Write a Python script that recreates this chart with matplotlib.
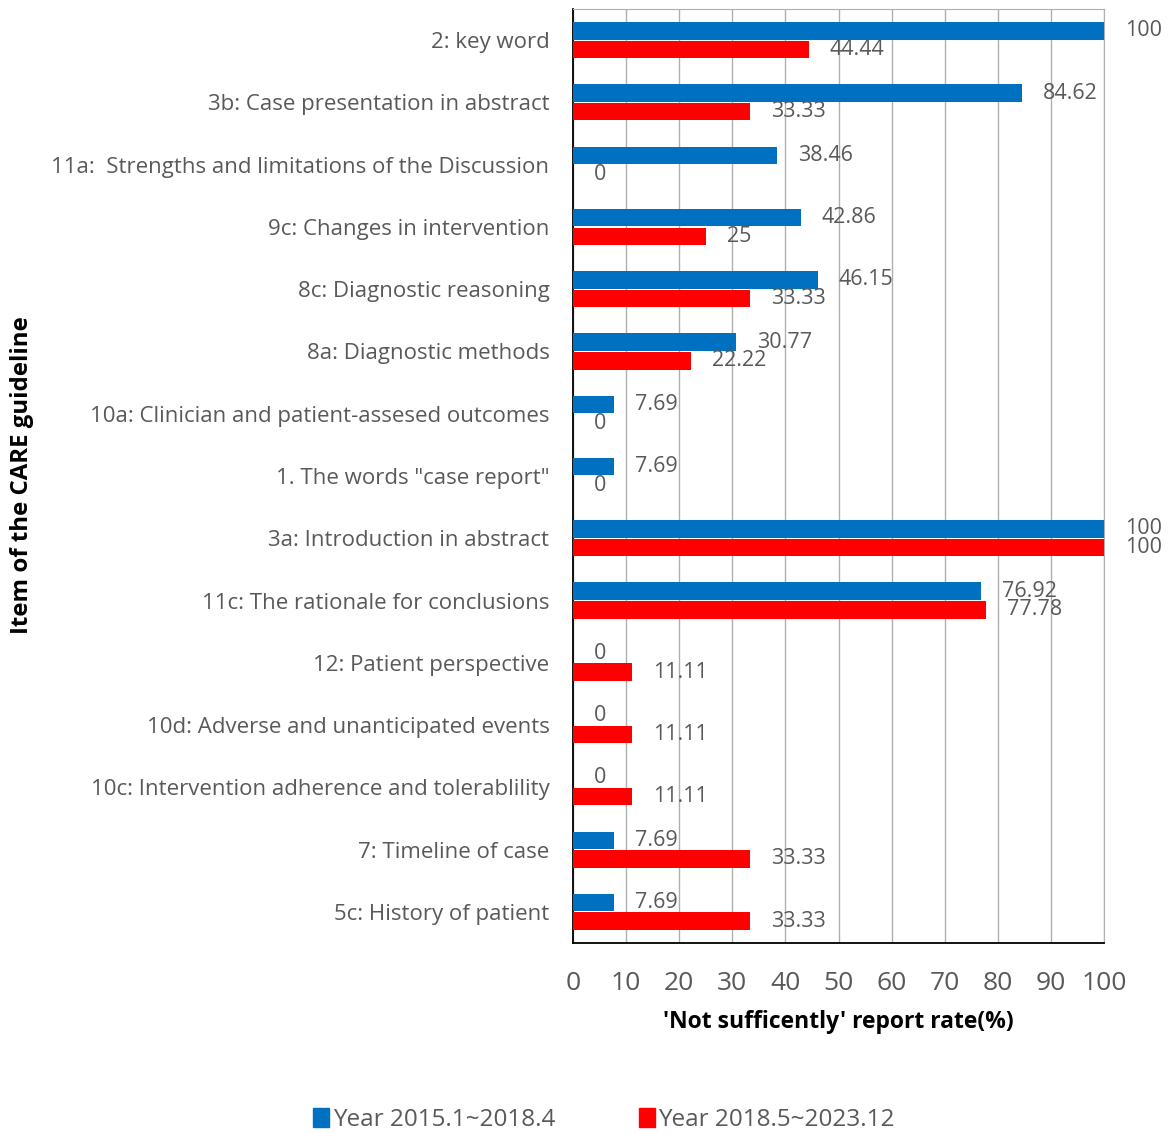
import numpy as np
import matplotlib
matplotlib.use("Agg")
import matplotlib.pyplot as plt
from matplotlib.patches import Patch

plt.rcParams["font.family"] = ["Open Sans", "DejaVu Sans"]

categories = [
    "2: key word",
    "3b: Case presentation in abstract",
    "11a:  Strengths and limitations of the Discussion",
    "9c: Changes in intervention",
    "8c: Diagnostic reasoning",
    "8a: Diagnostic methods",
    "10a: Clinician and patient-assesed outcomes",
    '1. The words "case report"',
    "3a: Introduction in abstract",
    "11c: The rationale for conclusions",
    "12: Patient perspective",
    "10d: Adverse and unanticipated events",
    "10c: Intervention adherence and tolerablility",
    "7: Timeline of case",
    "5c: History of patient",
]
early = [100, 84.62, 38.46, 42.86, 46.15, 30.77, 7.69, 7.69, 100, 76.92, 0, 0, 0, 7.69, 7.69]
late = [44.44, 33.33, 0, 25, 33.33, 22.22, 0, 0, 100, 77.78, 11.11, 11.11, 11.11, 33.33, 33.33]
series_names = ["Year 2015.1~2018.4", "Year 2018.5~2023.12"]
xticks = list(range(0, 101, 10))

blue = "#0070C0"
red = "#FF0000"
gray_txt = "#595959"

fig = plt.figure(figsize=(11.7, 11.33), dpi=100)
ax = fig.add_axes([573 / 1170, 1 - 943 / 1133, (1104 - 573) / 1170, (943 - 9) / 1133])

y = np.arange(len(categories))
h = 0.28
b1 = ax.barh(y - 0.15, early, height=h, color=blue, zorder=3)
b2 = ax.barh(y + 0.15, late, height=h, color=red, zorder=3)

for bars, vals in ((b1, early), (b2, late)):
    for bar, v in zip(bars, vals):
        ax.annotate(f"{v:g}", xy=(v, bar.get_y() + bar.get_height() / 2),
                    xytext=(15, 0), textcoords="offset points",
                    ha="left", va="center", fontsize=15.5, color=gray_txt)

ax.set_xlim(0, 100)
ax.set_ylim(len(categories) - 0.5, -0.5)
ax.set_xticks(xticks)
ax.set_yticks(y)
ax.set_yticklabels(categories)
ax.tick_params(axis="x", length=0, pad=20, labelsize=19, labelcolor=gray_txt)
ax.tick_params(axis="y", length=0, pad=17, labelsize=16, labelcolor=gray_txt)
ax.grid(axis="x", color="#AFAFAF", linewidth=1, zorder=0)

for s in ("top", "right"):
    ax.spines[s].set_color("#AFAFAF")
for s in ("left", "bottom"):
    ax.spines[s].set_color("black")
    ax.spines[s].set_linewidth(1.3)

ax.set_xlabel("'Not sufficently' report rate(%)", fontsize=16.5, fontweight="bold", labelpad=10)
fig.text(22 / 1170, 1 - 475 / 1133, "Item of the CARE guideline", rotation=90,
         ha="center", va="center", fontsize=17.3, fontweight="bold")

handles = [Patch(color=blue), Patch(color=red)]
fig.legend(handles, series_names, loc="center", bbox_to_anchor=(604 / 1170, 1 - 1120 / 1133),
           ncol=2, frameon=False, fontsize=17.5, handlelength=0.65, handleheight=0.8,
           handletextpad=0.15, columnspacing=3.45, labelcolor=gray_txt)

fig.savefig("out.png", dpi=100)
